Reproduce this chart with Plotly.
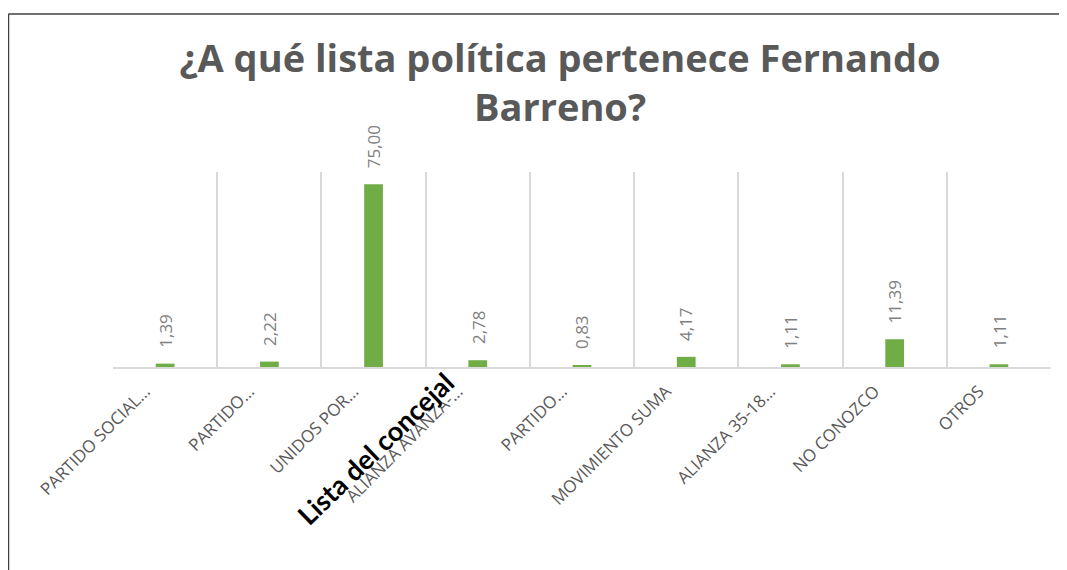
import plotly.graph_objects as go

# datos
categorias = list(range(9))
etiquetas = ["PARTIDO SOCIAL…", "PARTIDO…", "UNIDOS POR…", "ALIANZA AVANZA-…", "PARTIDO…",
             "MOVIMIENTO SUMA", "ALIANZA 35-18…", "NO CONOZCO", "OTROS"]
porcentajes = [1.39, 2.22, 75.00, 2.78, 0.83, 4.17, 1.11, 11.39, 1.11]

titulo = "¿A qué lista política pertenece Fernando<br>Barreno?"
nota = "Lista del concejal"

verde = "#70ad47"
gris = "#595959"

# la página añade 8 px de margen, así que la figura ocupa el resto de la ventana
W, H = 1059, 562
L, R, T, B = 105, 16, 164, 203
pw, ph = W - L - R, H - T - B


def px_x(x):
    return (x - L) / pw


def px_y(y):
    return (H - B - y) / ph


fig = go.Figure()
fig.add_trace(go.Bar(
    x=categorias,
    y=porcentajes,
    width=0.18,
    marker=dict(color=verde, line=dict(width=0)),
    hoverinfo="y",
))

# etiquetas de datos verticales sobre cada barra
for c, v in zip(categorias, porcentajes):
    fig.add_annotation(
        x=c, y=v, xref="x", yref="y",
        text=f"{v:.2f}".replace(".", ","),
        textangle=-90, showarrow=False,
        xanchor="center", yanchor="bottom", yshift=14,
        font=dict(family="Open Sans", size=17, color="#808080"),
    )

# texto superpuesto en negrita
fig.add_annotation(
    x=px_x(367), y=px_y(440), xref="paper", yref="paper",
    text="<b>" + nota + "</b>", textangle=-44, showarrow=False,
    xanchor="center", yanchor="middle",
    font=dict(family="Lato", size=27, color="black"),
)

# borde del área del gráfico (arriba e izquierda)
fig.add_shape(type="line", xref="paper", yref="paper",
              x0=px_x(0.5), x1=px_x(W + 5), y0=px_y(6), y1=px_y(6),
              line=dict(color="#404040", width=1.5))
fig.add_shape(type="line", xref="paper", yref="paper",
              x0=px_x(0.5), x1=px_x(0.5), y0=px_y(6), y1=px_y(H + 5),
              line=dict(color="#404040", width=1.5))

fig.update_layout(
    width=W, height=H,
    margin=dict(l=L, r=R, t=T, b=B),
    paper_bgcolor="white", plot_bgcolor="white",
    showlegend=False,
    title=dict(
        text="<b>" + titulo + "</b>",
        x=552 / W, xanchor="center", xref="container",
        y=1 - 64 / H, yanchor="top", yref="container",
        font=dict(family="Open Sans", size=38, color=gris),
    ),
    xaxis=dict(
        type="category",
        tickmode="array", tickvals=categorias, ticktext=etiquetas,
        tickson="boundaries",
        showgrid=True, gridcolor="#d9d9d9", gridwidth=1.5,
        showline=True, linecolor="#d9d9d9", linewidth=1.5,
        ticks="", tickangle=-45,
        ticklabelshift=-20, ticklabelstandoff=6,
        tickfont=dict(family="Open Sans", size=17, color=gris),
        range=[-0.5, 8.5],
    ),
    yaxis=dict(
        range=[0, 80], visible=False, showgrid=False, zeroline=False,
    ),
)

fig.write_html("out.html")
